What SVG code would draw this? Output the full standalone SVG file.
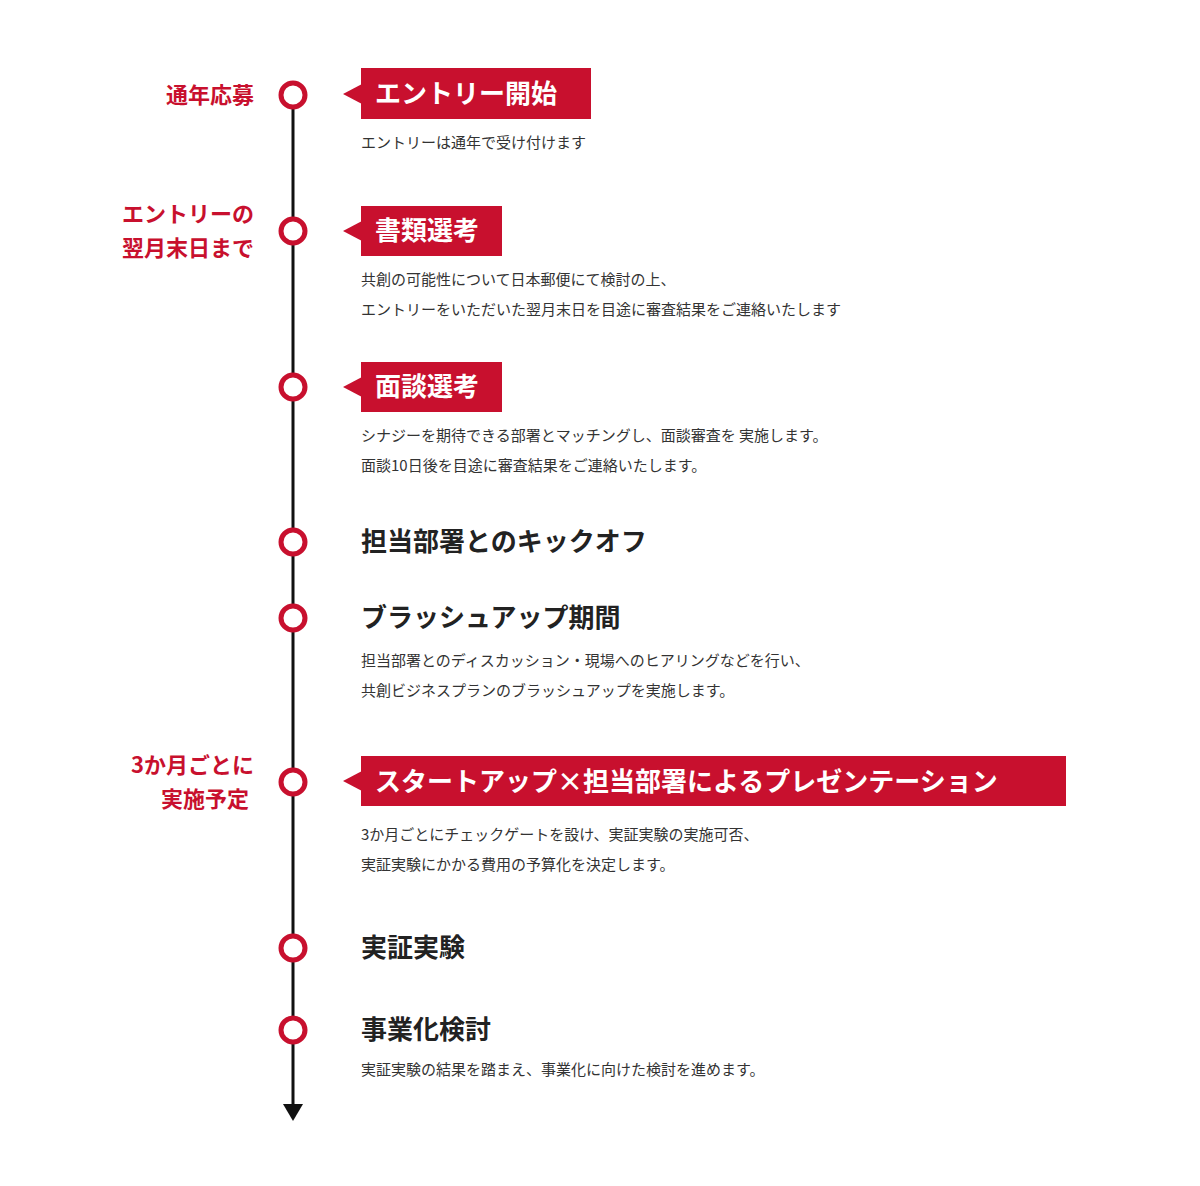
<svg xmlns="http://www.w3.org/2000/svg" width="1200" height="1186" viewBox="0 0 1200 1186">
<style>
.lbl{font-family:"Noto Sans CJK JP",sans-serif;font-weight:700;font-size:22px;fill:#c8102e;text-anchor:end}
.tag{fill:#c8102e}
.tt{font-family:"Noto Sans CJK JP",sans-serif;font-weight:700;font-size:26px;fill:#fff}
.h{font-family:"Noto Sans CJK JP",sans-serif;font-weight:700;font-size:26px;fill:#222}
.d{font-family:"Noto Sans CJK JP",sans-serif;font-size:15px;fill:#333}
.dot{fill:#fff;stroke:#c8102e;stroke-width:5}
</style>
<rect width="1200" height="1186" fill="#fff"/>
<g id="connectors">
<line x1="293" y1="95" x2="293" y2="1106" stroke="#111" stroke-width="3"/>
<polygon points="283,1104 303,1104 293,1121" fill="#111"/>
</g>
<g id="n1">
<circle class="dot" cx="293" cy="95" r="12"/>
<text class="lbl" x="254" y="103">通年応募</text>
<rect class="tag" x="361" y="68" width="230" height="51"/><polygon class="tag" points="343,94 362,84 362,104"/>
<text class="tt" x="375" y="103">エントリー開始</text>
<text class="d" x="361" y="148">エントリーは通年で受け付けます</text>
</g>
<g id="n2">
<circle class="dot" cx="293" cy="231" r="12"/>
<text class="lbl" x="254" y="222">エントリーの</text>
<text class="lbl" x="254" y="256">翌月末日まで</text>
<rect class="tag" x="361" y="206" width="141" height="50"/><polygon class="tag" points="343,231 362,221 362,241"/>
<text class="tt" x="375" y="240">書類選考</text>
<text class="d" x="361" y="285">共創の可能性について日本郵便にて検討の上、</text>
<text class="d" x="361" y="315">エントリーをいただいた翌月末日を目途に審査結果をご連絡いたします</text>
</g>
<g id="n3">
<circle class="dot" cx="293" cy="387" r="12"/>
<rect class="tag" x="361" y="362" width="141" height="50"/><polygon class="tag" points="343,387 362,377 362,397"/>
<text class="tt" x="375" y="396">面談選考</text>
<text class="d" x="361" y="441">シナジーを期待できる部署とマッチングし、面談審査を 実施します。</text>
<text class="d" x="361" y="471">面談10日後を目途に審査結果をご連絡いたします。</text>
</g>
<g id="n4">
<circle class="dot" cx="293" cy="542" r="12"/>
<text class="h" x="361" y="551">担当部署とのキックオフ</text>
</g>
<g id="n5">
<circle class="dot" cx="293" cy="618" r="12"/>
<text class="h" x="361" y="627">ブラッシュアップ期間</text>
<text class="d" x="361" y="666">担当部署とのディスカッション・現場へのヒアリングなどを行い、</text>
<text class="d" x="361" y="696">共創ビジネスプランのブラッシュアップを実施します。</text>
</g>
<g id="n6">
<circle class="dot" cx="293" cy="782" r="12"/>
<text class="lbl" x="254" y="773">3か月ごとに</text>
<text class="lbl" x="249" y="807">実施予定</text>
<rect class="tag" x="361" y="756" width="705" height="50"/><polygon class="tag" points="343,781 362,771 362,791"/>
<text class="tt" x="375" y="791">スタートアップ×担当部署によるプレゼンテーション</text>
<text class="d" x="361" y="840">3か月ごとにチェックゲートを設け、実証実験の実施可否、</text>
<text class="d" x="361" y="870">実証実験にかかる費用の予算化を決定します。</text>
</g>
<g id="n7">
<circle class="dot" cx="293" cy="948" r="12"/>
<text class="h" x="361" y="957">実証実験</text>
</g>
<g id="n8">
<circle class="dot" cx="293" cy="1030" r="12"/>
<text class="h" x="361" y="1039">事業化検討</text>
<text class="d" x="361" y="1075">実証実験の結果を踏まえ、事業化に向けた検討を進めます。</text>
</g>
</svg>
